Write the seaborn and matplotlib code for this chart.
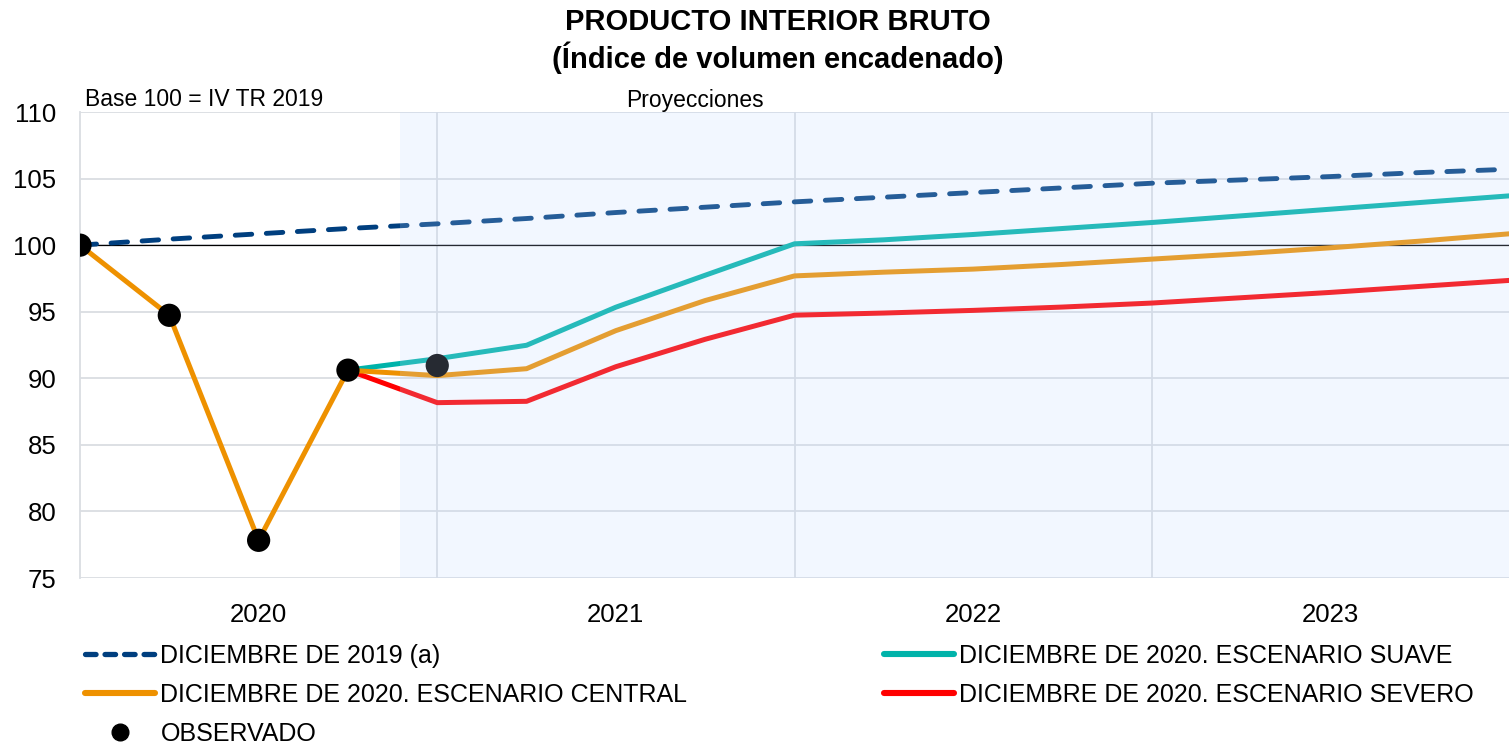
import numpy as np
import pandas as pd
import seaborn as sns
from matplotlib import pyplot as plt
from matplotlib.lines import Line2D

# quarters from IV TR 2019 (0) to IV TR 2023 (16)
quarters = ['IV-19', 'I-20', 'II-20', 'III-20', 'IV-20', 'I-21', 'II-21', 'III-21', 'IV-21',
            'I-22', 'II-22', 'III-22', 'IV-22', 'I-23', 'II-23', 'III-23', 'IV-23']
year_labels = ['2020', '2021', '2022', '2023']

# observed GDP index
observado = [100.0, 94.73, 77.83, 90.61, 90.96]

# projections (index, base 100 = IV TR 2019)
dic_2019 = [100.0, 100.45, 100.85, 101.25, 101.6, 102.0, 102.45, 102.85, 103.25,
            103.6, 103.95, 104.3, 104.65, 104.9, 105.15, 105.45, 105.7]
central = [100.0, 94.73, 77.83, 90.61, 90.2, 90.72, 93.58, 95.84, 97.69,
           97.97, 98.2, 98.55, 98.95, 99.35, 99.8, 100.3, 100.85]
suave = [90.61, 91.47, 92.48, 95.34, 97.74, 100.1,
         100.4, 100.8, 101.25, 101.7, 102.2, 102.7, 103.2, 103.7]
severo = [90.61, 88.17, 88.27, 90.87, 92.93, 94.74,
          94.9, 95.1, 95.35, 95.65, 96.05, 96.45, 96.9, 97.35]

c_dic19 = '#003F7F'
c_central = '#EE9100'
c_suave = '#00B3AA'
c_severo = '#FF0000'

sns.set_style('white')
plt.rcParams['font.family'] = ['Liberation Sans', 'DejaVu Sans']
plt.rcParams['text.color'] = 'black'

fig = plt.figure(figsize=(15.09, 7.46), dpi=100)
ax = fig.add_axes([80 / 1509, 1 - 578 / 746, 1 - 80 / 1509, (578 - 112) / 746])

x_all = np.arange(len(quarters))
x_proj = np.arange(3, len(quarters))

sns.lineplot(x=x_all, y=dic_2019, ax=ax, color=c_dic19, lw=3.5, zorder=3,
             dashes=False, linestyle=(0, (3.4, 3.0)), dash_capstyle='round')
sns.lineplot(x=x_proj, y=suave, ax=ax, color=c_suave, lw=3.6, zorder=3)
sns.lineplot(x=x_proj, y=severo, ax=ax, color=c_severo, lw=3.6, zorder=3)
sns.lineplot(x=x_all, y=central, ax=ax, color=c_central, lw=3.6, zorder=4)
sns.scatterplot(x=np.arange(len(observado)), y=observado, ax=ax, color='black',
                s=280, edgecolor='none', zorder=6)

# reference line at 100
ax.axhline(100, color='black', lw=0.9, zorder=2)

# projection area (translucent overlay)
ax.axvspan(3.58, 16, color='#BFD7FF', alpha=0.2, lw=0, zorder=7)

ax.set_xlim(0, 16)
ax.set_ylim(75, 110)
ax.set_yticks(np.arange(75, 111, 5))
ax.set_xticks([2, 6, 10, 14])
ax.set_xticklabels(year_labels)
ax.tick_params(axis='both', length=0, labelsize=18.5, colors='black')
ax.tick_params(axis='y', pad=17)
ax.tick_params(axis='x', pad=18)

ax.grid(axis='y', color='#DADDE2', lw=1.3, zorder=0)
for xv in [4, 8, 12]:
    ax.axvline(xv, color='#DADDE2', lw=1.3, zorder=0)
for side in ['top', 'right', 'bottom']:
    ax.spines[side].set_visible(False)
ax.spines['left'].set_color('#DADDE2')
ax.spines['left'].set_linewidth(1.3)

fig.text(778 / 1509, 1 - 22 / 746, 'PRODUCTO INTERIOR BRUTO', ha='center', va='center',
         fontsize=21, fontweight='bold')
fig.text(778 / 1509, 1 - 58 / 746, '(Índice de volumen encadenado)', ha='center', va='center',
         fontsize=21, fontweight='bold')
fig.text(85 / 1509, 1 - 99 / 746, 'Base 100 = IV TR 2019', ha='left', va='center', fontsize=16.5)
fig.text(695 / 1509, 1 - 101 / 746, 'Proyecciones', ha='center', va='center', fontsize=16.5)

handles = [
    Line2D([], [], color=c_dic19, lw=3.8, linestyle=(0, (2.0, 1.7)), dash_capstyle='round'),
    Line2D([], [], color=c_central, lw=4.4, solid_capstyle='round'),
    Line2D([], [], color='black', marker='o', markersize=12, linestyle='none'),
    Line2D([], [], color=c_suave, lw=4.4, solid_capstyle='round'),
    Line2D([], [], color=c_severo, lw=4.4, solid_capstyle='round'),
]
labels = ['DICIEMBRE DE 2019 (a)', 'DICIEMBRE DE 2020. ESCENARIO CENTRAL', 'OBSERVADO',
          'DICIEMBRE DE 2020. ESCENARIO SUAVE', 'DICIEMBRE DE 2020. ESCENARIO SEVERO']
fig.legend(handles, labels, loc='upper left', bbox_to_anchor=(85 / 1509, 1 - 644 / 746),
           ncol=2, frameon=False, fontsize=18, handlelength=2.8, handletextpad=0.22,
           labelspacing=0.6, columnspacing=7.85, borderaxespad=0, borderpad=0)

fig.savefig('out.png', dpi=100)
